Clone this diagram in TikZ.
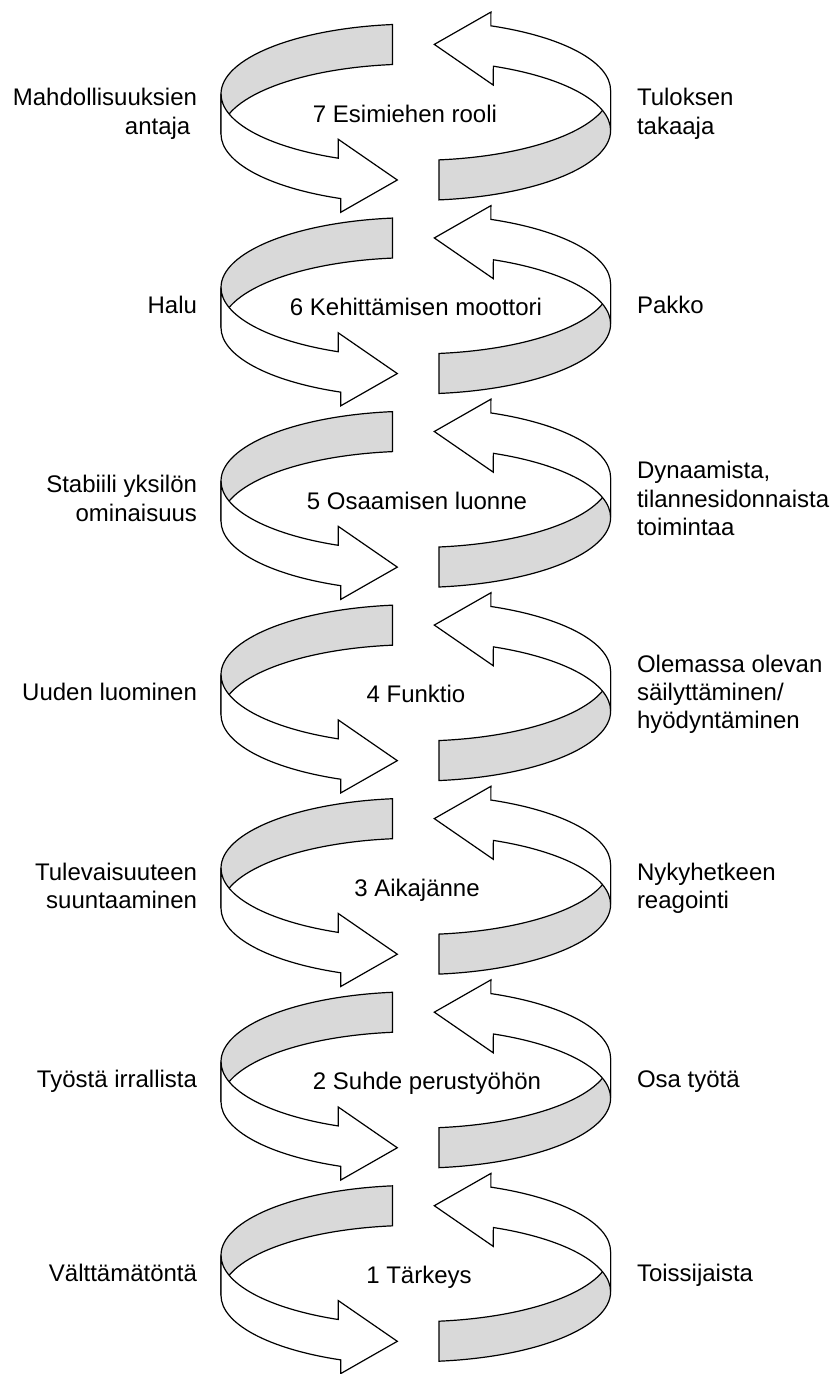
\documentclass[tikz,border=0pt]{standalone}
\usepackage{fontspec}
\setmainfont{Liberation Sans}
\definecolor{bandgray}{RGB}{217,217,217}
\tikzset{
  bandline/.style={draw=black,line width=1.2pt,line join=miter},
  backband/.style={bandline,fill=bandgray},
  frontband/.style={bandline,fill=white},
  lbl/.style={font=\fontsize{24}{28.3}\selectfont,inner sep=0pt,outer sep=0pt},
  leftlbl/.style={lbl,anchor=east,align=right},
  rightlbl/.style={lbl,anchor=west,align=left},
  midlbl/.style={lbl,anchor=base},
}
\newcommand{\bandarrow}{%
  \path[backband] ([shift={(416,-94)}]96.9:195 and 70)
     arc[start angle=96.9,end angle=180,x radius=195,y radius=70]
     -- (221,-134)
     arc[start angle=180,end angle=96.9,x radius=195,y radius=70]
     -- cycle;
  \path[frontband] (221,-94)
     arc[start angle=180,end angle=246.5,x radius=195,y radius=70]
     -- (338.3,-139.3) -- (397.3,-180) -- (340.7,-212.3)
     -- ([shift={(416,-134)}]247.3:195 and 70)
     arc[start angle=247.3,end angle=180,x radius=195,y radius=70]
     -- cycle;
}
\newcommand{\unitrow}[6]{%
  \begin{scope}[yshift=-#1pt]
    \bandarrow
    \begin{scope}[rotate around={180:(415.8,-112.2)}]\bandarrow\end{scope}
    \node[leftlbl] (l#2) at (197,-114.3) {#3};
    \node[midlbl] (m#2) at (#4,-122) {#5};
    \node[rightlbl] (r#2) at (637,-114.3) {#6};
  \end{scope}}
\begin{document}
\begin{tikzpicture}[x=1pt,y=1pt]
\fill[white] (0,0) rectangle (832,-1374);
\useasboundingbox (0,0) rectangle (832,-1374);
\unitrow{0}{7}{\strut Mahdollisuuksien\\\strut antaja\kern6.7pt}{405}{7 Esimiehen rooli}{\strut Tuloksen\\\strut takaaja}
\unitrow{193.55}{6}{\strut Halu}{416}{6 Kehittämisen moottori}{\strut Pakko}
\unitrow{387.1}{5}{\strut Stabiili yksilön\\\strut ominaisuus}{417}{5 Osaamisen luonne}{\strut Dynaamista,\\\strut tilannesidonnaista\\\strut toimintaa}
\unitrow{580.65}{4}{\strut Uuden luominen}{416}{4 Funktio}{\strut Olemassa olevan\\\strut säilyttäminen/\\\strut hyödyntäminen}
\unitrow{774.2}{3}{\strut Tulevaisuuteen\\\strut suuntaaminen}{417}{3 Aikajänne}{\strut Nykyhetkeen\\\strut reagointi}
\unitrow{967.75}{2}{\strut Työstä irrallista}{427}{2 Suhde perustyöhön}{\strut Osa työtä}
\unitrow{1161.3}{1}{\strut Välttämätöntä}{419}{1 Tärkeys}{\strut Toissijaista}
\end{tikzpicture}
\end{document}
